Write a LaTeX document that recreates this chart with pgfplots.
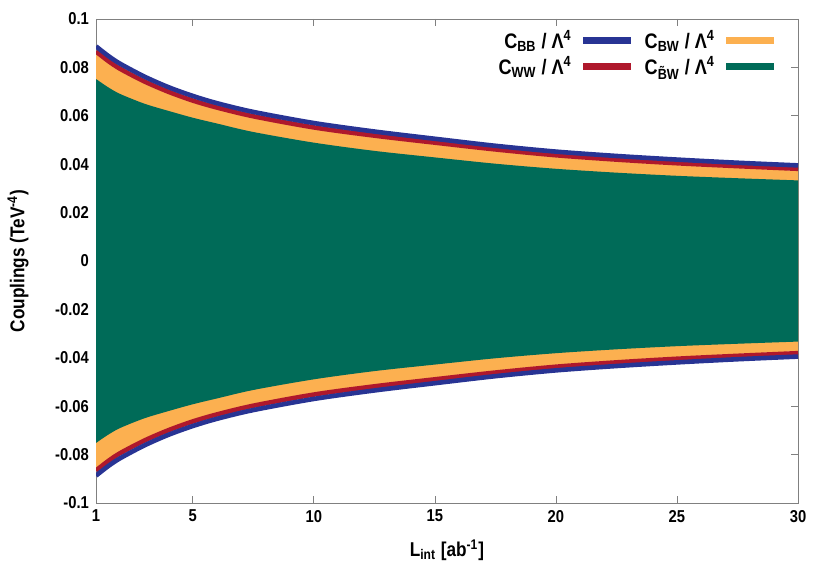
\documentclass[border=0pt]{standalone}
\usepackage{fontspec}
\setmainfont{Liberation Sans}[FakeStretch=0.86]
\usepackage{pgfplots}
\usepackage{pgfplotstable}
\pgfplotsset{compat=1.18}
\usepgfplotslibrary{fillbetween}

\definecolor{cbb}{RGB}{40,52,148}
\definecolor{cww}{RGB}{175,24,44}
\definecolor{cbw}{RGB}{252,176,80}
\definecolor{ctbw}{RGB}{0,107,88}

% upper bounds of the bands (lower bounds are the negatives)
\pgfplotstableread{
x     blue    red     orng    green
1     0.0887  0.0866  0.0858  0.0752
1.5   0.0848  0.0827  0.0819  0.0718
2     0.0815  0.0794  0.0786  0.0690
3     0.0762  0.0742  0.0734  0.0650
4     0.0718  0.0699  0.0691  0.0620
5     0.0682  0.0663  0.0655  0.0592
6     0.0652  0.0634  0.0626  0.0568
7.5   0.0616  0.0598  0.0590  0.0533
10    0.0570  0.0552  0.0544  0.0489
12.5  0.0535  0.0518  0.0510  0.0455
15    0.0505  0.0489  0.0481  0.0428
17.5  0.0476  0.0461  0.0453  0.0402
20    0.0452  0.0437  0.0429  0.0381
22.5  0.0434  0.0419  0.0411  0.0365
25    0.0419  0.0404  0.0396  0.0352
27.5  0.0406  0.0392  0.0384  0.0342
30    0.0395  0.0381  0.0373  0.0333
}\bands

\newcommand{\tickfont}{\fontsize{8.6}{10}\selectfont\bfseries}
\newcommand{\labfont}{\fontsize{10}{12}\selectfont\bfseries}
\newcommand{\legfont}{\fontsize{10.5}{12}\selectfont\bfseries}

\begin{document}
\begin{tikzpicture}
\begin{axis}[
  scale only axis, width=351pt, height=242pt,
  xmin=1, xmax=30, ymin=-0.1, ymax=0.1,
  xtick={1,5,10,15,20,25,30},
  xticklabels={1,5,10,15,20,25,30},
  ytick={-0.1,-0.08,-0.06,-0.04,-0.02,0,0.02,0.04,0.06,0.08,0.1},
  yticklabels={-0.1,-0.08,-0.06,-0.04,-0.02,0,0.02,0.04,0.06,0.08,0.1},
  tick label style={font=\tickfont},
  axis line style={black!50},
  every tick/.style={black!50},
  major tick length=3.5pt,
  xlabel={L\textsubscript{int} [ab\textsuperscript{-1}]},
  ylabel={Couplings (TeV\textsuperscript{-4})},
  label style={font=\labfont},
  xlabel style={at={(axis description cs:0.5,-0.097)}, anchor=center},
  ylabel style={at={(axis description cs:-0.111,0.5)}, anchor=center},
  legend columns=2,
  legend plot pos=right,
  legend cell align=right,
  legend image code/.code={\draw[#1, line width=3.5pt] (0pt,0pt) -- (24pt,0pt);},
  legend style={draw=none, fill=none, inner sep=0pt, font=\legfont,
    at={(rel axis cs:0.972,0.986)}, anchor=north east,
    /tikz/every odd column/.append style={column sep=2pt},
    /tikz/every even column/.append style={column sep=3pt},
    row sep=-1.5pt},
]
\addplot[name path=ou, draw=none, smooth, forget plot] table[x=x, y=orng] {\bands};
\addplot[name path=ol, draw=none, smooth, forget plot] table[x=x, y expr=-\thisrow{orng}] {\bands};
\addplot[name path=gu, draw=none, smooth, forget plot] table[x=x, y=green] {\bands};
\addplot[name path=gl, draw=none, smooth, forget plot] table[x=x, y expr=-\thisrow{green}] {\bands};
\addplot[cbw, forget plot] fill between[of=ou and ol];
\addplot[ctbw, forget plot] fill between[of=gu and gl];

\addplot[cww, line width=2.3pt, smooth, forget plot] table[x=x, y=red] {\bands};
\addplot[cww, line width=2.3pt, smooth, forget plot] table[x=x, y expr=-\thisrow{red}] {\bands};
\addplot[cbb, line width=2.3pt, smooth, forget plot] table[x=x, y=blue] {\bands};
\addplot[cbb, line width=2.3pt, smooth, forget plot] table[x=x, y expr=-\thisrow{blue}] {\bands};

\addlegendimage{cbb, line width=3pt}
\addlegendentry{C\textsubscript{BB} / Λ\textsuperscript{4}}
\addlegendimage{cbw}
\addlegendentry{C\textsubscript{BW} / Λ\textsuperscript{4}}
\addlegendimage{cww}
\addlegendentry{C\textsubscript{WW} / Λ\textsuperscript{4}}
\addlegendimage{ctbw}
\addlegendentry{C\textsubscript{\~{B}W} / Λ\textsuperscript{4}}
\end{axis}
\pgfresetboundingbox
\path ([xshift=-48pt,yshift=-39pt]current axis.south west) rectangle ([xshift=16pt,yshift=9.5pt]current axis.north east);
\end{tikzpicture}
\end{document}
